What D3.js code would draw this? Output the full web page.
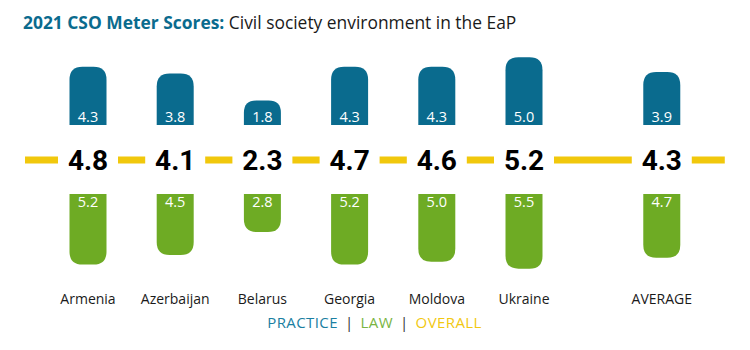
<!DOCTYPE html>
<html>
<head>
<meta charset="utf-8">
<script src="https://cdn.jsdelivr.net/npm/d3@7"></script>
<style>
  body { margin: 0; background: #fff; }
  svg { display: block; }
  text { font-family: "Open Sans", sans-serif; }
</style>
</head>
<body>
<div id="chart"></div>
<script>
// data
const countries = ["Armenia", "Azerbaijan", "Belarus", "Georgia", "Moldova", "Ukraine"];
const practice = [4.3, 3.8, 1.8, 4.3, 4.3, 5.0];
const law = [5.2, 4.5, 2.8, 5.2, 5.0, 5.5];
const overall = [4.8, 4.1, 2.3, 4.7, 4.6, 5.2];
const avgLabel = "AVERAGE";
const avgPractice = 3.9, avgLaw = 4.7, avgOverall = 4.3;
const legendItems = ["PRACTICE", "LAW", "OVERALL"];

const width = 750, height = 350;
const blue = "#0a6b8e", green = "#6eab24", yellow = "#f1c80c";
const legendColors = ["#1b7fa2", "#79b443", "#f2c811"];

const rows = countries.map((c, i) => ({ name: c, practice: practice[i], law: law[i], overall: overall[i] }));
rows.push({ name: avgLabel, practice: avgPractice, law: avgLaw, overall: avgOverall, avg: true });

const x = d3.scalePoint().domain(countries).range([88, 524]);
const step = x.step();
const xPos = d => d.avg ? x(countries[countries.length - 1]) + step * 1.58 : x(d.name);

// bar length scale
const h = d3.scaleLinear().domain([0, 7]).range([0, 95]);

const barW = 37,
    practiceBase = 125,
    lawBase = 194,
    midY = 160;

const svg = d3.select("#chart").append("svg")
    .attr("width", width)
    .attr("height", height);

// title
const title = svg.append("text")
    .attr("x", 23)
    .attr("y", 29)
    .style("font-size", "17.4px");
title.append("tspan")
    .text("2021 CSO Meter Scores:")
    .style("font-weight", 700)
    .style("fill", blue);
title.append("tspan")
    .text(" Civil society environment in the EaP")
    .style("fill", "#1a1a1a");

// rounded bar path, dir = -1 grows upward, +1 downward
function barPath(cx, base, len, dir) {
    const l = cx - barW / 2, r = cx + barW / 2;
    const rad = Math.min(13, len / 2);
    const end = base + dir * len;
    const p = d3.path();
    p.moveTo(l, base);
    p.lineTo(l, end - dir * rad);
    p.quadraticCurveTo(l, end, l + rad, end);
    p.lineTo(r - rad, end);
    p.quadraticCurveTo(r, end, r, end - dir * rad);
    p.lineTo(r, base);
    p.closePath();
    return p.toString();
}

const g = svg.selectAll(".col").data(rows).join("g").attr("class", "col");

g.append("path")
    .attr("d", d => barPath(xPos(d), practiceBase, h(d.practice), -1))
    .attr("fill", blue);

g.append("path")
    .attr("d", d => barPath(xPos(d), lawBase, h(d.law), 1))
    .attr("fill", green);

g.append("text")
    .attr("x", d => xPos(d))
    .attr("y", practiceBase - 3)
    .attr("text-anchor", "middle")
    .style("font-size", "14.5px")
    .style("fill", "#fff")
    .text(d => d.practice.toFixed(1));

g.append("text")
    .attr("x", d => xPos(d))
    .attr("y", lawBase + 13)
    .attr("text-anchor", "middle")
    .style("font-size", "14.5px")
    .style("fill", "#fff")
    .text(d => d.law.toFixed(1));

g.append("text")
    .attr("x", d => xPos(d))
    .attr("y", midY + 10)
    .attr("text-anchor", "middle")
    .style("font-family", "Roboto, sans-serif")
    .style("font-weight", 700)
    .style("font-size", "28px")
    .style("fill", "#000")
    .text(d => d.overall.toFixed(1));

g.append("text")
    .attr("x", d => xPos(d))
    .attr("y", 304)
    .attr("text-anchor", "middle")
    .style("font-size", "14px")
    .style("fill", "#1a1a1a")
    .text(d => d.name);

// yellow dashes between overall scores
const gap = 30;
const centers = rows.map(xPos);
const dashes = [[centers[0] - gap - 33, centers[0] - gap]];
for (let i = 0; i < centers.length - 1; i++) {
    dashes.push([centers[i] + gap, centers[i + 1] - gap]);
}
dashes.push([centers[centers.length - 1] + gap, centers[centers.length - 1] + gap + 33]);

svg.selectAll(".dash").data(dashes).join("rect")
    .attr("class", "dash")
    .attr("x", d => d[0])
    .attr("y", midY - 3.5)
    .attr("width", d => d[1] - d[0])
    .attr("height", 7)
    .attr("fill", yellow);

// legend
const legend = svg.append("text")
    .attr("x", 374.5)
    .attr("y", 328)
    .attr("text-anchor", "middle")
    .style("font-size", "15px")
    .style("letter-spacing", "0.4px");
legendItems.forEach((t, i) => {
    if (i > 0) {
        legend.append("tspan").attr("dx", 7).text("|").style("fill", "#333");
        legend.append("tspan").attr("dx", 7).text(t).style("fill", legendColors[i]);
    } else {
        legend.append("tspan").text(t).style("fill", legendColors[i]);
    }
});
</script>
</body>
</html>
